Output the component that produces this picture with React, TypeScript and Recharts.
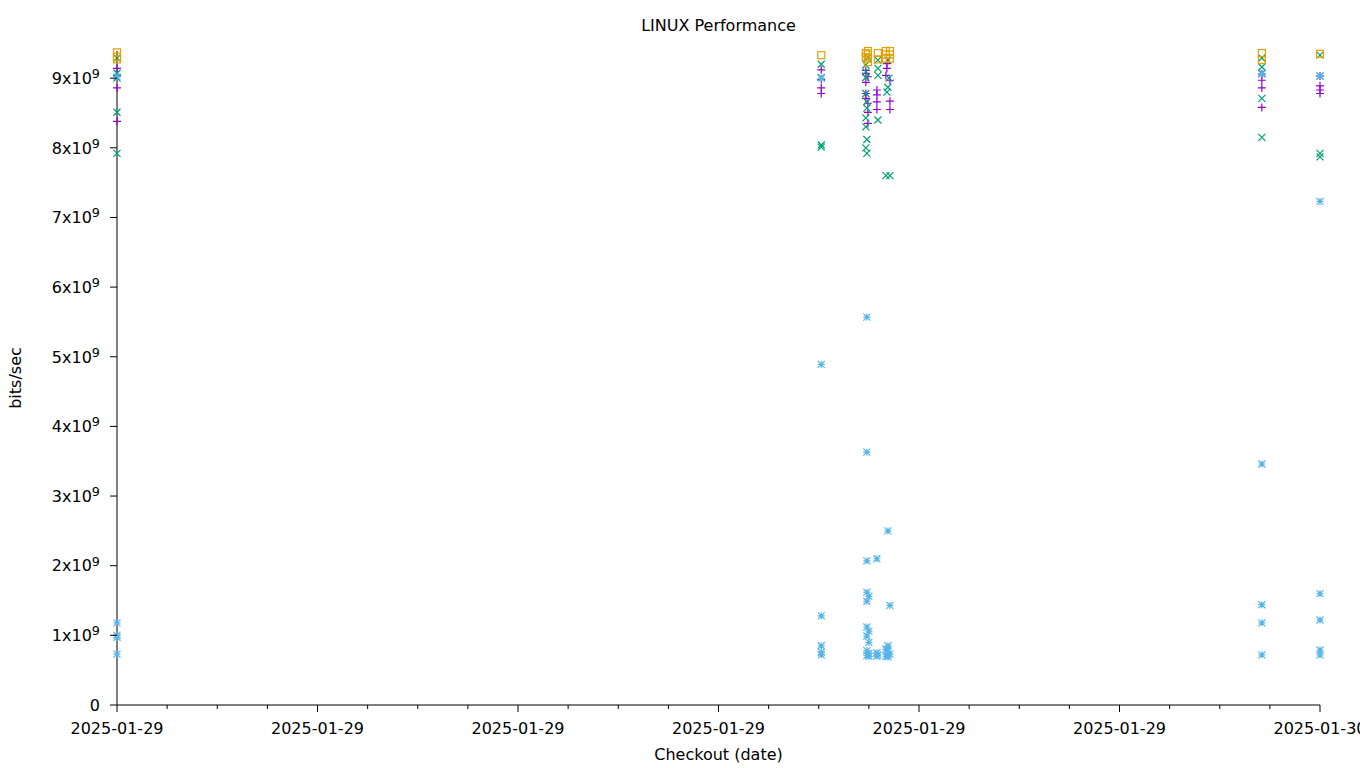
import React from 'react';
import { ScatterChart, Scatter, XAxis, YAxis } from 'recharts';

const FONT = '"DejaVu Sans", sans-serif';

// x = hours since 2025-01-29 00:00, y = bits/sec
const plusPoints: [number, number][] = [
  [0, 9.14e9], [0, 9.04e9], [0, 8.86e9], [0, 8.38e9],
  [14.05, 9.12e9], [14.05, 8.98e9], [14.05, 8.86e9], [14.05, 8.78e9],
  [14.94, 9.11e9], [14.94, 9.07e9], [14.94, 8.94e9], [14.94, 8.78e9], [14.94, 8.71e9],
  [14.98, 9.02e9], [14.98, 8.64e9], [14.98, 8.51e9], [14.98, 8.35e9],
  [15.16, 8.83e9], [15.16, 8.76e9], [15.16, 8.66e9], [15.16, 8.55e9],
  [15.36, 9.21e9], [15.36, 9.14e9], [15.34, 9.04e9],
  [15.42, 8.97e9], [15.42, 8.67e9], [15.42, 8.55e9],
  [22.84, 9.06e9], [22.84, 8.97e9], [22.84, 8.86e9], [22.84, 8.58e9],
  [24, 9.03e9], [24, 8.89e9], [24, 8.83e9], [24, 8.78e9],
];

const crossPoints: [number, number][] = [
  [0, 9.29e9], [0, 9.07e9], [0, 9.0e9], [0, 8.51e9], [0, 7.92e9],
  [14.05, 9.2e9], [14.05, 9.01e9], [14.05, 8.04e9], [14.05, 8.01e9],
  [14.98, 9.29e9], [14.94, 9.19e9], [14.94, 9.09e9], [14.94, 9.01e9], [14.94, 8.78e9],
  [14.96, 8.66e9], [14.96, 8.57e9], [14.94, 8.43e9], [14.94, 8.3e9], [14.96, 8.12e9],
  [14.94, 8.0e9], [14.96, 7.92e9],
  [15.18, 9.26e9], [15.18, 9.14e9], [15.18, 9.04e9], [15.18, 8.4e9],
  [15.38, 9.26e9], [15.4, 9.0e9], [15.38, 8.87e9], [15.36, 8.8e9],
  [15.34, 7.6e9], [15.42, 7.6e9],
  [22.84, 9.29e9], [22.84, 9.16e9], [22.84, 9.07e9], [22.84, 8.71e9], [22.84, 8.15e9],
  [24, 9.33e9], [24, 9.03e9], [24, 7.92e9], [24, 7.87e9],
];

const starPoints: [number, number][] = [
  [0, 9.02e9], [0, 1.18e9], [0, 1.0e9], [0, 0.97e9], [0, 0.73e9],
  [14.05, 9.0e9], [14.05, 4.89e9], [14.05, 1.28e9], [14.05, 0.85e9], [14.05, 0.76e9], [14.05, 0.72e9],
  [14.96, 5.57e9], [14.96, 3.63e9], [14.96, 2.07e9], [14.96, 1.62e9], [14.96, 1.49e9],
  [14.96, 1.12e9], [14.96, 0.99e9], [14.96, 0.78e9], [14.96, 0.71e9],
  [15.0, 1.56e9], [15.0, 1.06e9], [15.0, 0.9e9], [15.0, 0.74e9], [15.0, 0.7e9],
  [15.16, 2.1e9], [15.16, 0.75e9], [15.16, 0.7e9], [15.18, 0.72e9],
  [15.38, 2.5e9], [15.38, 0.85e9], [15.38, 0.79e9], [15.38, 0.72e9], [15.38, 0.69e9],
  [15.34, 0.8e9], [15.34, 0.7e9], [15.42, 1.43e9], [15.42, 0.73e9],
  [22.84, 9.06e9], [22.84, 3.46e9], [22.84, 1.44e9], [22.84, 1.18e9], [22.84, 0.72e9],
  [24, 9.03e9], [24, 7.23e9], [24, 1.6e9], [24, 1.22e9], [24, 0.79e9], [24, 0.72e9],
];

const squarePoints: [number, number][] = [
  [0, 9.37e9], [0, 9.31e9], [0, 9.27e9],
  [14.05, 9.33e9],
  [14.98, 9.39e9], [14.98, 9.34e9], [14.98, 9.28e9], [14.98, 9.23e9], [14.94, 9.36e9], [14.94, 9.3e9],
  [15.18, 9.36e9], [15.18, 9.27e9],
  [15.34, 9.39e9], [15.34, 9.34e9], [15.34, 9.28e9],
  [15.42, 9.39e9], [15.42, 9.34e9], [15.42, 9.28e9],
  [22.84, 9.36e9], [22.84, 9.26e9],
  [24, 9.35e9],
];

const hourTicks = [0, 1, 2, 3, 4, 5, 6, 7, 8, 9, 10, 11, 12, 13, 14, 15, 16, 17, 18, 19, 20, 21, 22, 23, 24];
const majorHours = [0, 4, 8, 12, 16, 20, 24];
const dateLabels = ['2025-01-29', '2025-01-29', '2025-01-29', '2025-01-29', '2025-01-29', '2025-01-29', '2025-01-30'];
const valueTicks = [0, 1e9, 2e9, 3e9, 4e9, 5e9, 6e9, 7e9, 8e9, 9e9];
const mantissas = ['0', '1', '2', '3', '4', '5', '6', '7', '8', '9'];

const COLORS = { plus: '#9400d3', cross: '#009e73', star: '#56b4e9', square: '#e69f00' };

const toData = (pts: [number, number][]) => pts.map(([x, y]) => ({ x, y }));

const XTick = (props: any) => {
  const { x, y, payload } = props;
  const idx = majorHours.indexOf(payload.value);
  const major = idx >= 0;
  return (
    <g>
      <line x1={x} x2={x} y1={y} y2={y + (major ? 7 : 4)} stroke="#000" strokeWidth={1} />
      {major && (
        <text x={x} y={y + 29} textAnchor="middle" fontSize={16} fontFamily={FONT} fill="#000">
          {dateLabels[idx]}
        </text>
      )}
    </g>
  );
};

const TopTick = (props: any) => {
  const { x, y, payload } = props;
  const major = majorHours.indexOf(payload.value) >= 0;
  return <line x1={x} x2={x} y1={y} y2={y - (major ? 7 : 4)} stroke="#000" strokeWidth={1} />;
};

const YTick = (props: any) => {
  const { x, y, payload } = props;
  const i = valueTicks.indexOf(payload.value);
  return (
    <g>
      <line x1={x - 7} x2={x} y1={y} y2={y} stroke="#000" strokeWidth={1} />
      <text x={x - 17} y={y} dy="0.36em" textAnchor="end" fontSize={16} fontFamily={FONT} fill="#000">
        {i === 0 ? (
          '0'
        ) : (
          <>
            {mantissas[i]}x10
            <tspan dy="-0.45em" fontSize={12.8}>9</tspan>
          </>
        )}
      </text>
    </g>
  );
};

const RightTick = (props: any) => {
  const { x, y } = props;
  return <line x1={x} x2={x + 7} y1={y} y2={y} stroke="#000" strokeWidth={1} />;
};

const plusShape = (p: any) => {
  const { cx, cy } = p;
  const s = 4;
  return (
    <path d={`M${cx - s},${cy}H${cx + s}M${cx},${cy - s}V${cy + s}`} stroke={COLORS.plus} strokeWidth={1.2} fill="none" />
  );
};

const crossShape = (p: any) => {
  const { cx, cy } = p;
  const s = 3.5;
  return (
    <path d={`M${cx - s},${cy - s}L${cx + s},${cy + s}M${cx - s},${cy + s}L${cx + s},${cy - s}`} stroke={COLORS.cross} strokeWidth={1.2} fill="none" />
  );
};

const starShape = (p: any) => {
  const { cx, cy } = p;
  const s = 3.5;
  return (
    <path
      d={`M${cx - s},${cy}H${cx + s}M${cx},${cy - s}V${cy + s}M${cx - s},${cy - s}L${cx + s},${cy + s}M${cx - s},${cy + s}L${cx + s},${cy - s}`}
      stroke={COLORS.star}
      strokeWidth={1.2}
      fill="none"
    />
  );
};

const squareShape = (p: any) => {
  const { cx, cy } = p;
  const s = 3.5;
  return <rect x={cx - s} y={cy - s} width={2 * s} height={2 * s} stroke={COLORS.square} strokeWidth={1.2} fill="none" />;
};

export default function App() {
  return (
    <div style={{ position: 'absolute', left: 0, top: 0, width: 1360, height: 768, background: '#fff' }}>
      <ScatterChart width={1360} height={768} margin={{ top: 50, right: 39, bottom: 0, left: 0 }}>
        <XAxis
          xAxisId="b"
          type="number"
          dataKey="x"
          domain={[0, 24]}
          ticks={hourTicks}
          interval={0}
          tick={XTick}
          tickLine={false}
          tickSize={0}
          tickMargin={0}
          height={63}
          axisLine={{ stroke: '#000', strokeWidth: 1 }}
        />
        <XAxis
          xAxisId="t"
          orientation="top"
          type="number"
          domain={[0, 24]}
          ticks={hourTicks}
          interval={0}
          tick={TopTick}
          tickLine={false}
          tickSize={0}
          tickMargin={0}
          height={1}
          axisLine={false}
        />
        <YAxis
          yAxisId="l"
          type="number"
          dataKey="y"
          domain={[0, 9.39e9]}
          ticks={valueTicks}
          interval={0}
          tick={YTick}
          tickLine={false}
          tickSize={0}
          tickMargin={0}
          width={117}
          axisLine={{ stroke: '#000', strokeWidth: 1 }}
        />
        <YAxis
          yAxisId="r"
          orientation="right"
          type="number"
          domain={[0, 9.39e9]}
          ticks={valueTicks}
          interval={0}
          tick={RightTick}
          tickLine={false}
          tickSize={0}
          tickMargin={0}
          width={1}
          axisLine={false}
        />
        <Scatter xAxisId="b" yAxisId="l" data={toData(plusPoints)} shape={plusShape} isAnimationActive={false} />
        <Scatter xAxisId="b" yAxisId="l" data={toData(crossPoints)} shape={crossShape} isAnimationActive={false} />
        <Scatter xAxisId="b" yAxisId="l" data={toData(starPoints)} shape={starShape} isAnimationActive={false} />
        <Scatter xAxisId="b" yAxisId="l" data={toData(squarePoints)} shape={squareShape} isAnimationActive={false} />
      </ScatterChart>
      <svg width={1360} height={768} style={{ position: 'absolute', left: 0, top: 0, pointerEvents: 'none' }}>
        <text x={718.5} y={31} textAnchor="middle" fontSize={16} fontFamily={FONT} fill="#000">
          LINUX Performance
        </text>
        <text x={718.5} y={760} textAnchor="middle" fontSize={16} fontFamily={FONT} fill="#000">
          Checkout (date)
        </text>
        <text x={21} y={378} textAnchor="middle" fontSize={16} fontFamily={FONT} fill="#000" transform="rotate(-90 21 378)">
          bits/sec
        </text>
      </svg>
    </div>
  );
}
